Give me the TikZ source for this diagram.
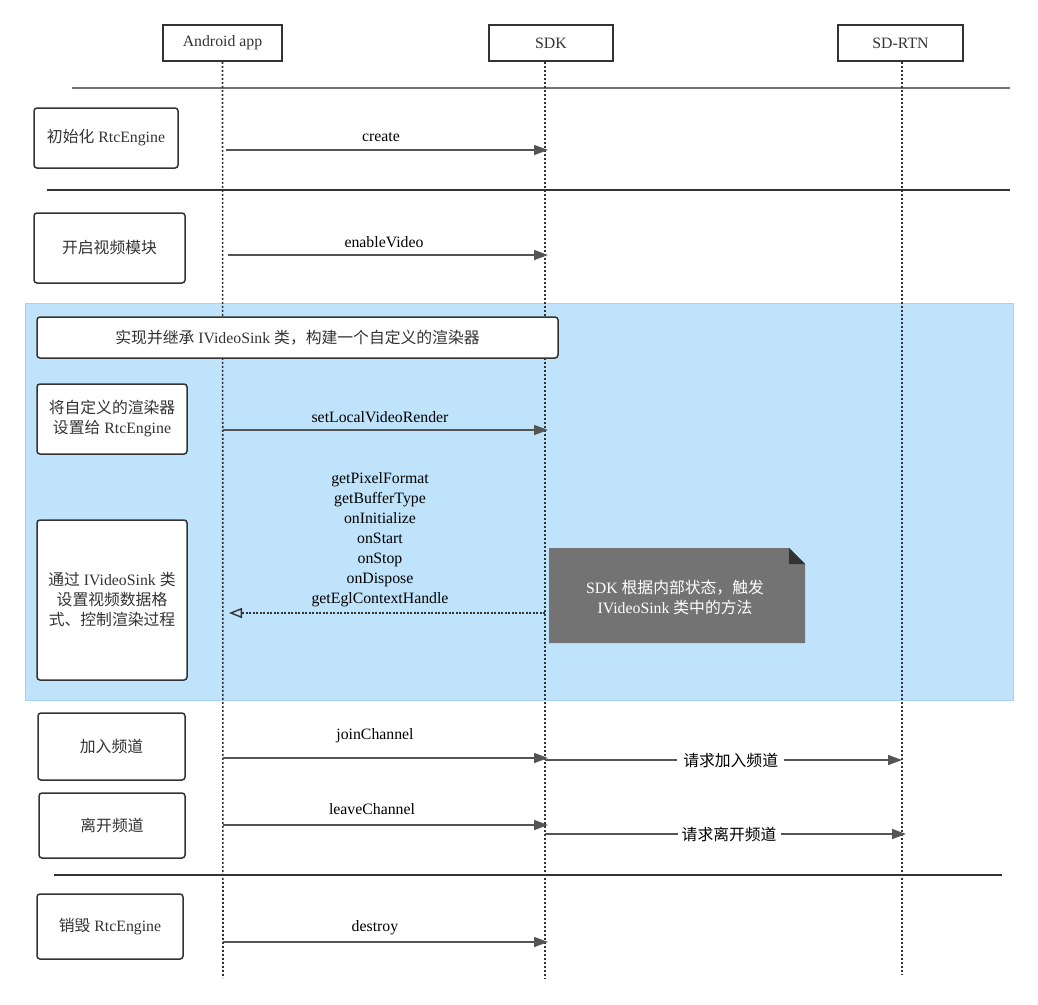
\documentclass[tikz,border=0pt]{standalone}
\usepackage{fontspec}
\setmainfont{Liberation Serif}
\newfontfamily\cjk{Noto Sans CJK SC}
\newcommand{\zh}[1]{{\cjk #1}}
\usetikzlibrary{arrows.meta}
\definecolor{linegray}{HTML}{555555}
\definecolor{boxline}{HTML}{333333}
\definecolor{bandblue}{HTML}{BEE3FA}
\definecolor{bandedge}{HTML}{A6D3F5}
\definecolor{notegray}{HTML}{737373}

\begin{document}
\begin{tikzpicture} [x=1pt,y=-1pt,font=\fontsize{15.8}{20}\selectfont,text=boxline]
  \tikzstyle{actor}=[draw=boxline,line width=1.5pt,fill=white,minimum height=36pt,inner sep=0pt]
  \tikzstyle{stage}=[draw=boxline,line width=1.5pt,rounded corners=3pt,fill=white,align=center,inner sep=0pt]
  \tikzstyle{lifeline}=[draw=boxline,line width=1.6pt,dash pattern=on 2pt off 2pt]
  \tikzstyle{msg}=[draw=linegray,line width=1.5pt,-{Triangle[length=14pt,width=10pt]}]
  \tikzstyle{reply}=[draw=boxline,line width=1.6pt,dash pattern=on 2pt off 1.5pt,-{Triangle[open,length=13pt,width=10pt,line width=1.4pt]}]
  \tikzstyle{label}=[text=black,inner sep=0pt]

  \useasboundingbox (0,0) rectangle (1038,1004);

  % blue band round the renderer steps
  \fill[bandblue] (25,303) rectangle (1013,700);
  \draw[bandedge,line width=1pt] (25,303) rectangle (1013,700);

  % separators
  \draw[color=gray!90!black,line width=1.5pt] (72,88) -- (1010,88);
  \draw[color=boxline,line width=1.5pt] (47,190) -- (1010,190);
  \draw[color=boxline,line width=1.5pt] (54,875) -- (1002,875);

  % actors and lifelines
  \node[actor,minimum width=119pt] (app) at (222.5,43) {Android app};
  \node[actor,minimum width=124pt] (sdk) at (551,43) {SDK};
  \node[actor,minimum width=125pt] (rtn) at (900.5,43) {SD-RTN};

  \coordinate (append) at (223,978);
  \coordinate (sdkend) at (545,978);
  \coordinate (rtnend) at (902,975);
  \draw[lifeline] (app.south) -- (append);
  \draw[lifeline] ([xshift=-6pt]sdk.south) -- (sdkend);
  \draw[lifeline] ([xshift=1.5pt]rtn.south) -- (rtnend);

  % steps on the left
  \node[stage,minimum width=144pt,minimum height=60pt] (init) at (106,138) {\zh{初始化} RtcEngine};
  \node[stage,minimum width=151pt,minimum height=70pt] (video) at (109.5,248) {\zh{开启视频模块}};
  \node[stage,minimum width=521pt,minimum height=41pt] (sink) at (297.5,337.5) {\zh{实现并继承} IVideoSink \zh{类，构建一个自定义的渲染器}};
  \node[stage,minimum width=150pt,minimum height=70pt] (render) at (112,419) {\zh{将自定义的渲染器}\\\zh{设置给} RtcEngine};
  \node[stage,minimum width=150pt,minimum height=160pt] (format) at (112,600) {\zh{通过} IVideoSink \zh{类}\\\zh{设置视频数据格}\\\zh{式、控制渲染过程}};
  \node[stage,minimum width=147pt,minimum height=67pt] (join) at (111.5,746.5) {\zh{加入频道}};
  \node[stage,minimum width=146pt,minimum height=65pt] (leave) at (112,825.5) {\zh{离开频道}};
  \node[stage,minimum width=146pt,minimum height=65pt] (quit) at (110,926.5) {\zh{销毁} RtcEngine};

  % message ends on the lifelines
  \coordinate (a1) at (226,150);  \coordinate (s1) at (548,150);
  \coordinate (a2) at (228,255);  \coordinate (s2) at (548,255);
  \coordinate (a3) at (223,430);  \coordinate (s3) at (548,430);
  \coordinate (s4) at (545,613);  \coordinate (a4) at (229,613);
  \coordinate (a5) at (223,758);  \coordinate (s5) at (548,758);
  \coordinate (s6) at (545,760);  \coordinate (r6) at (902,760);
  \coordinate (a7) at (223,825);  \coordinate (s7) at (548,825);
  \coordinate (s8) at (545,834);  \coordinate (r8) at (906,834);
  \coordinate (a9) at (223,942);  \coordinate (s9) at (548,942);

  \draw[msg] (a1) -- (s1);
  \node[label] (create) at (381,137) {create};
  \draw[msg] (a2) -- (s2);
  \node[label] (enable) at (384,242) {enableVideo};
  \draw[msg] (a3) -- (s3);
  \node[label] (setrender) at (380,417) {setLocalVideoRender};

  \draw[reply] (s4) -- (a4);
  \node[label,align=center] (methods) at (380,540) {getPixelFormat\\getBufferType\\onInitialize\\onStart\\onStop\\onDispose\\getEglContextHandle};

  \draw[msg] (a5) -- (s5);
  \node[label] (joinch) at (375,736) {joinChannel};
  \draw[msg] (s6) -- node[label,fill=white,inner xsep=6pt,inner ysep=2pt,pos=0.52] (reqjoin) {\zh{请求加入频道}} (r6);
  \draw[msg] (a7) -- (s7);
  \node[label] (leavech) at (372,809) {leaveChannel};
  \draw[msg] (s8) -- node[label,fill=white,inner xsep=4pt,inner ysep=2pt,pos=0.51] (reqleave) {\zh{请求离开频道}} (r8);
  \draw[msg] (a9) -- (s9);
  \node[label] (destroy) at (375,928) {destroy};

  % note with a folded corner
  \fill[notegray] (549,548) -- (789,548) -- (805,564) -- (805,643) -- (549,643) -- cycle;
  \fill[boxline] (789,548) -- (805,564) -- (789,564) -- cycle;
  \node[text=white,align=center,inner sep=0pt] (note) at (675,597) {SDK \zh{根据内部状态，触发}\\IVideoSink \zh{类中的方法}};

\end{tikzpicture}
\end{document}
